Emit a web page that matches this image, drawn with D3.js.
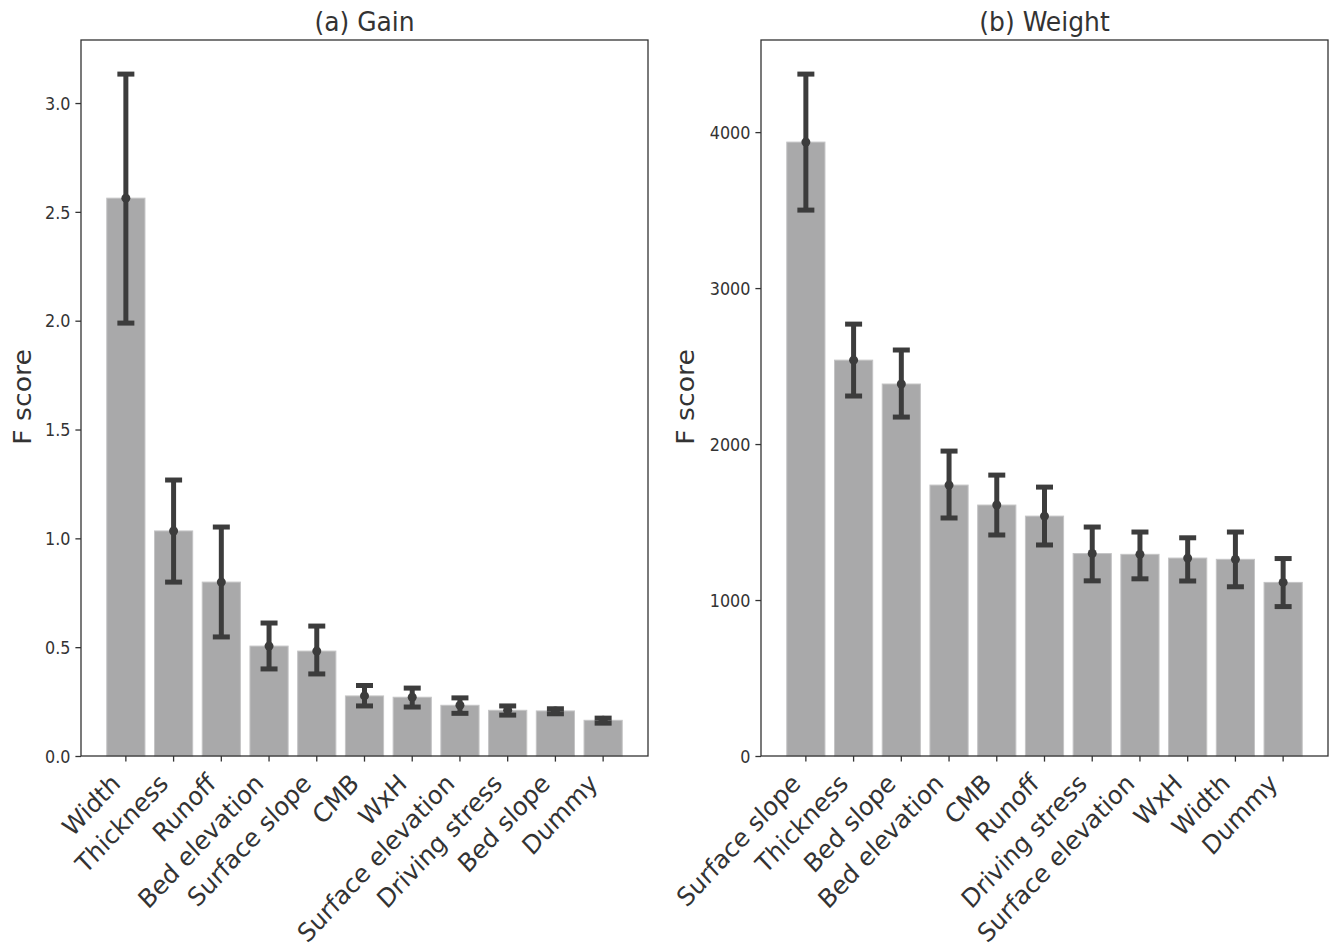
<!DOCTYPE html>
<html lang="en">
<head>
  <meta charset="UTF-8">
  <title>Feature importance</title>
  <script src="https://d3js.org/d3.v7.min.js"></script>
  <style>
    body { margin: 0; background: #fff; }
    text { font-family: 'DejaVu Sans', sans-serif; fill: #333; }
    .title { font-size: 25px; text-anchor: middle; }
    .ylabel { font-size: 25px; text-anchor: middle; }
    .ytick { font-size: 16px; text-anchor: end; }
    .xtick { font-size: 24px; text-anchor: end; }
  </style>
</head>
<body>
  <div id="chart"></div>
  <script>
    // (a) Gain
    const gainLabels = ['Width', 'Thickness', 'Runoff', 'Bed elevation', 'Surface slope', 'CMB', 'WxH',
      'Surface elevation', 'Driving stress', 'Bed slope', 'Dummy'];
    const gainMean = [2.563, 1.034, 0.799, 0.505, 0.482, 0.276, 0.270, 0.233, 0.210, 0.207, 0.164];
    const gainLow = [1.989, 0.799, 0.547, 0.400, 0.377, 0.230, 0.225, 0.196, 0.188, 0.194, 0.151];
    const gainHigh = [3.133, 1.268, 1.052, 0.611, 0.597, 0.324, 0.312, 0.267, 0.230, 0.217, 0.174];
    const gainTicks = [0, 0.5, 1.0, 1.5, 2.0, 2.5, 3.0];

    // (b) Weight
    const weightLabels = ['Surface slope', 'Thickness', 'Bed slope', 'Bed elevation', 'CMB', 'Runoff',
      'Driving stress', 'Surface elevation', 'WxH', 'Width', 'Dummy'];
    const weightMean = [3936, 2538, 2385, 1737, 1609, 1538, 1298, 1293, 1269, 1261, 1113];
    const weightLow = [3500, 2308, 2173, 1526, 1417, 1353, 1123, 1136, 1122, 1085, 958];
    const weightHigh = [4372, 2769, 2603, 1955, 1801, 1724, 1468, 1436, 1399, 1436, 1266];
    const weightTicks = [0, 1000, 2000, 3000, 4000];

    const W = 1330, H = 952;
    const svg = d3.select('#chart').append('svg')
      .attr('width', W)
      .attr('height', H);

    const barColor = '#a9a9aa';
    const errColor = '#3c3c3c';
    const sy = 1.07; // the original figure is slightly stretched vertically

    function panel(left, title, labels, mean, low, high, ticks, fmt) {
      const top = 40, width = 567, height = 716;
      const g = svg.append('g').attr('transform', `translate(${left},${top})`);

      const x = d3.scaleBand()
        .domain(labels)
        .range([0, width])
        .paddingInner(0.2)
        .paddingOuter(0.54);

      // matplotlib-ish 5% top margin
      const y = d3.scaleLinear()
        .domain([0, d3.max(high) * 1.05])
        .range([height, 0]);

      // bars
      g.selectAll('.bar')
        .data(labels)
        .enter().append('rect')
        .attr('class', 'bar')
        .attr('x', d => x(d))
        .attr('width', x.bandwidth())
        .attr('y', (d, i) => y(mean[i]))
        .attr('height', (d, i) => height - y(mean[i]))
        .attr('fill', barColor)
        .attr('stroke', '#c4c4c5')
        .attr('stroke-width', 1);

      // error bars
      const capW = 17;
      const eb = g.selectAll('.err')
        .data(labels)
        .enter().append('g')
        .attr('class', 'err')
        .attr('transform', d => `translate(${x(d) + x.bandwidth() / 2},0)`);

      eb.append('line')
        .attr('y1', (d, i) => y(low[i]))
        .attr('y2', (d, i) => y(high[i]))
        .attr('stroke', errColor)
        .attr('stroke-width', 5);
      eb.append('line')
        .attr('x1', -capW / 2).attr('x2', capW / 2)
        .attr('y1', (d, i) => y(high[i])).attr('y2', (d, i) => y(high[i]))
        .attr('stroke', errColor)
        .attr('stroke-width', 5);
      eb.append('line')
        .attr('x1', -capW / 2).attr('x2', capW / 2)
        .attr('y1', (d, i) => y(low[i])).attr('y2', (d, i) => y(low[i]))
        .attr('stroke', errColor)
        .attr('stroke-width', 5);
      eb.append('circle')
        .attr('cy', (d, i) => y(mean[i]))
        .attr('r', 4.5)
        .attr('fill', errColor);

      // y axis
      const yAxis = g.append('g')
        .call(d3.axisLeft(y).tickValues(ticks).tickFormat(fmt).tickSize(5.6).tickPadding(5));
      yAxis.select('.domain').remove();
      yAxis.selectAll('line').attr('stroke', '#333').attr('stroke-width', 1.3);
      yAxis.selectAll('.tick text')
        .attr('class', 'ytick')
        .attr('fill', null)
        .attr('dy', '0.36em')
        .attr('transform', `scale(1,${sy})`)
        .attr('y', function () { return 0; });

      // x axis ticks
      const xAxis = g.append('g')
        .attr('transform', `translate(0,${height})`)
        .call(d3.axisBottom(x).tickSize(5.6).tickFormat(''));
      xAxis.select('.domain').remove();
      xAxis.selectAll('line').attr('stroke', '#333').attr('stroke-width', 1.3);

      g.selectAll('.xtick')
        .data(labels)
        .enter().append('text')
        .attr('class', 'xtick')
        .attr('transform', d => `translate(${x(d) + x.bandwidth() / 2 - 4},${height + 29}) scale(1,${sy}) rotate(-45)`)
        .text(d => d);

      // frame
      g.append('rect')
        .attr('width', width)
        .attr('height', height)
        .attr('fill', 'none')
        .attr('stroke', '#333')
        .attr('stroke-width', 1.3);

      g.append('text')
        .attr('class', 'title')
        .attr('transform', `translate(${width / 2},-9) scale(1,${sy})`)
        .text(title);

      g.append('text')
        .attr('class', 'ylabel')
        .attr('transform', `translate(${left === 81 ? -59 : -76},${height / 2 - 1}) scale(1,${sy}) rotate(-90)`)
        .attr('dy', '0.35em')
        .text('F score');
    }

    panel(81, '(a) Gain', gainLabels, gainMean, gainLow, gainHigh, gainTicks, d3.format('.1f'));
    panel(761, '(b) Weight', weightLabels, weightMean, weightLow, weightHigh, weightTicks, d3.format('d'));
  </script>
</body>
</html>
